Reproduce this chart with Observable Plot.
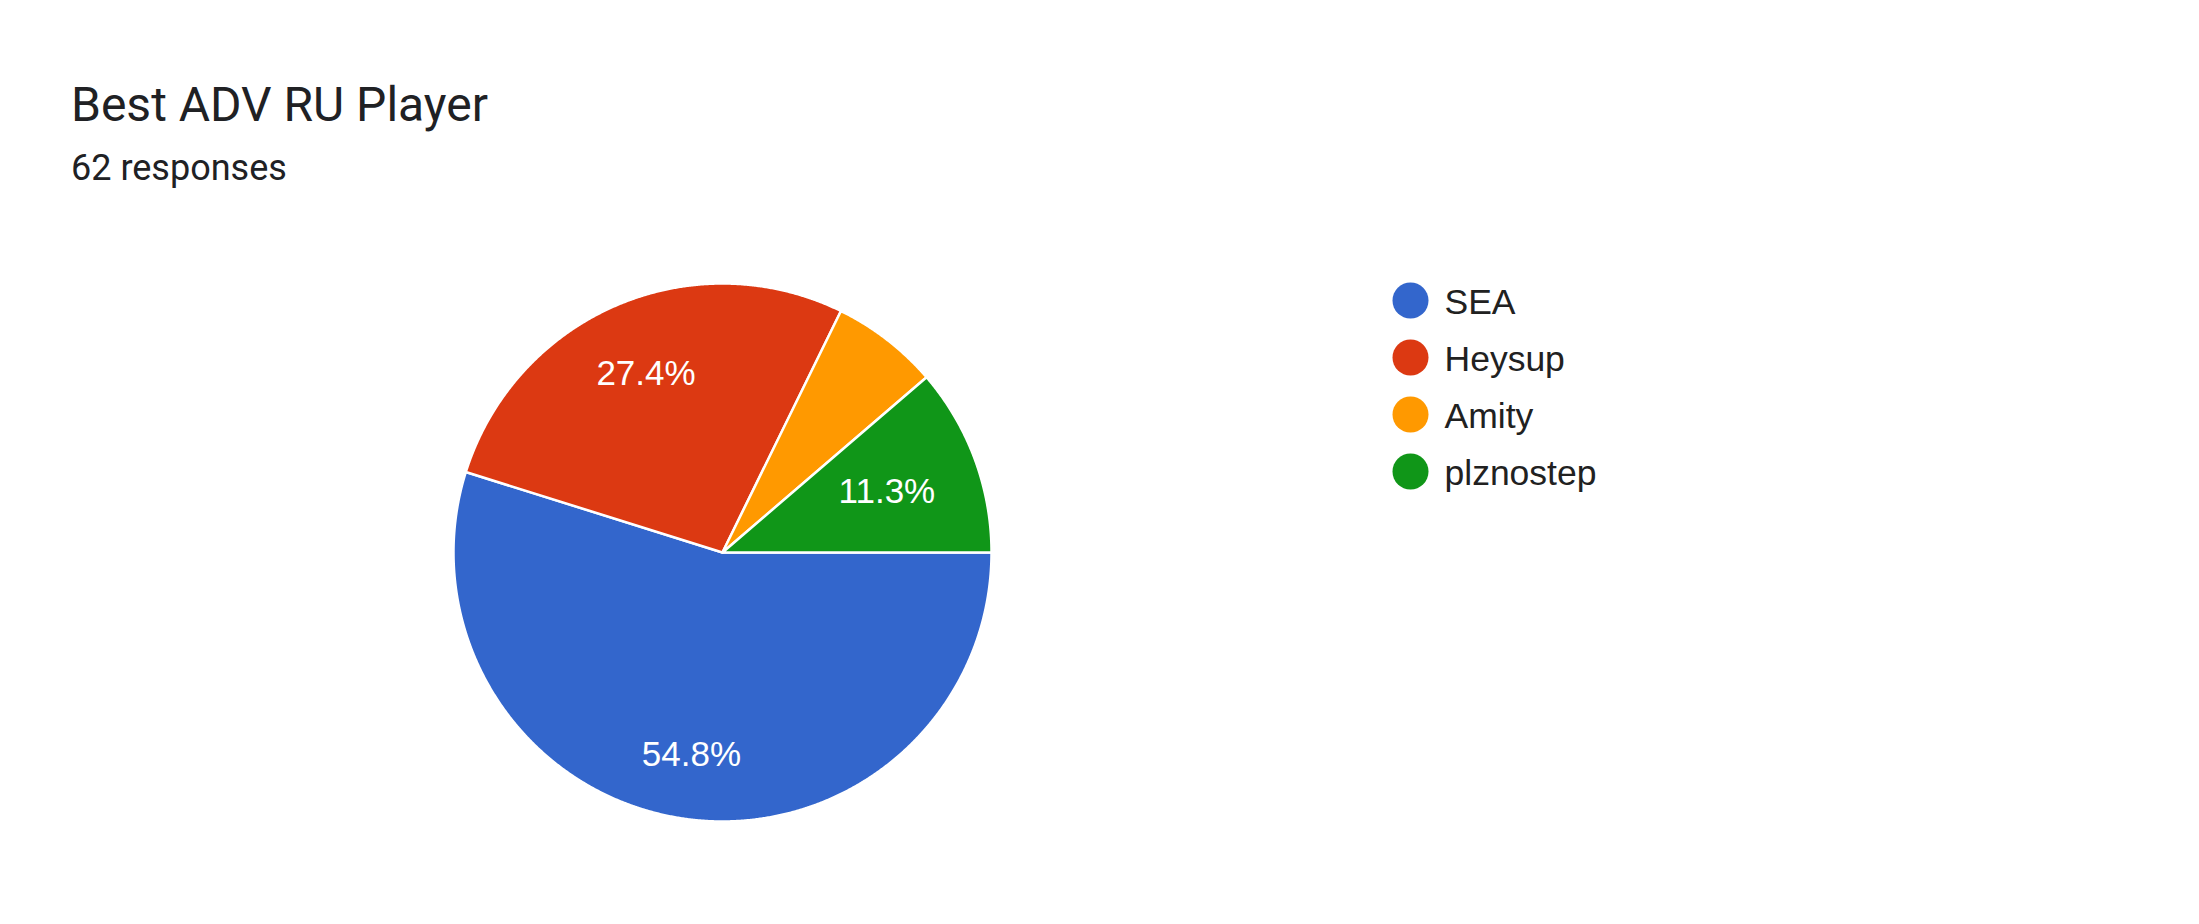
<!DOCTYPE html>
<html>
<head>
<meta charset="utf-8">
<script src="https://cdn.jsdelivr.net/npm/d3@7"></script>
<script src="https://cdn.jsdelivr.net/npm/@observablehq/plot@0.6"></script>
<style>
  html, body { margin: 0; padding: 0; background: #fff; }
  body { width: 2199px; height: 924px; position: relative; overflow: hidden; }
  #header { position: relative; height: 200px; }
  #title { position: absolute; left: 71px; top: 81px; font-family: Roboto, sans-serif; font-size: 48px; line-height: 1; color: #202124; white-space: nowrap; }
  #subtitle { position: absolute; left: 71px; top: 150px; font-family: Roboto, sans-serif; font-size: 36px; line-height: 1; color: #202124; white-space: nowrap; }
  #legend { position: absolute; left: 1380px; top: 280px; }
</style>
</head>
<body>
<div id="header">
  <div id="title">Best ADV RU Player</div>
  <div id="subtitle">62 responses</div>
</div>
<div id="chart"></div>
<div id="legend"></div>
<script>
// ---- data ----
const names = ["SEA", "Heysup", "Amity", "plznostep"];
const counts = [34, 17, 4, 7];
const colors = ["#3366cc", "#dc3912", "#ff9900", "#109618"];

// ---- layout ----
const W = 2199, H = 724;
const CX = 722, CY = 352, R = 269;
const startDeg = 90; // clockwise from north (3 o'clock)
const labelFont = "35px Arial, 'Liberation Sans', sans-serif";

const total = d3.sum(counts);
const slices = [];
let acc = 0;
names.forEach((name, i) => {
  const a0 = startDeg + acc / total * 360;
  acc += counts[i];
  const a1 = startDeg + acc / total * 360;
  slices.push({name, value: counts[i], a0, a1});
});

// polygon points per slice (center + arc)
const toRad = d => d * Math.PI / 180;
const pts = [];
for (const s of slices) {
  pts.push({name: s.name, x: 0, y: 0});
  const n = Math.max(2, Math.ceil((s.a1 - s.a0) / 0.25));
  for (let k = 0; k <= n; k++) {
    const a = toRad(s.a0 + (s.a1 - s.a0) * k / n);
    pts.push({name: s.name, x: Math.sin(a), y: Math.cos(a)});
  }
}

// labels: text box placed so its outer corner lies at a fixed radius
const ctx = document.createElement("canvas").getContext("2d");
ctx.font = labelFont;
const outer = 225 / R;
const labels = slices
  .filter(s => s.value / total >= 0.1)
  .map(s => {
    const text = (s.value / total * 100).toFixed(1) + "%";
    const w = ctx.measureText(text).width;
    const h = 25;
    const m = toRad((s.a0 + s.a1) / 2);
    const sx = Math.sin(m), sy = Math.cos(m);
    const support = ((w / 2) * Math.abs(sx) + (h / 2) * Math.abs(sy)) / R;
    const d = outer - support;
    return {text, x: sx * d, y: sy * d};
  });

const pie = Plot.plot({
  width: W,
  height: H,
  margin: 0,
  x: {domain: [-1, 1], range: [CX - R, CX + R], axis: null},
  y: {domain: [-1, 1], range: [CY + R, CY - R], axis: null},
  color: {domain: names, range: colors},
  style: {background: "#fff", fontFamily: "Arial, 'Liberation Sans', sans-serif"},
  marks: [
    Plot.line(pts, {x: "x", y: "y", z: "name", fill: "name", stroke: "#fff", strokeWidth: 2.5, strokeLinejoin: "round", curve: "linear-closed"}),
    Plot.text(labels, {x: "x", y: "y", text: "text", fill: "#fff", fontSize: 35})
  ]
});
document.getElementById("chart").appendChild(pie);

const step = 57;
const legend = Plot.plot({
  width: 360,
  height: 60 + step * (names.length - 1),
  marginTop: 20, marginBottom: 40, marginLeft: 30, marginRight: 0,
  y: {type: "point", domain: names, padding: 0, range: [20, 20 + step * (names.length - 1)], axis: null},
  color: {domain: names, range: colors},
  style: {background: "transparent", fontFamily: "Arial, 'Liberation Sans', sans-serif", overflow: "visible"},
  marks: [
    Plot.dot(names, {y: d => d, fill: d => d, r: 18, frameAnchor: "left"}),
    Plot.text(names, {y: d => d, text: d => d, frameAnchor: "left", dx: 34, dy: 2, textAnchor: "start", fontSize: 35.5, fill: "#212121"})
  ]
});
document.getElementById("legend").appendChild(legend);
</script>
</body>
</html>
